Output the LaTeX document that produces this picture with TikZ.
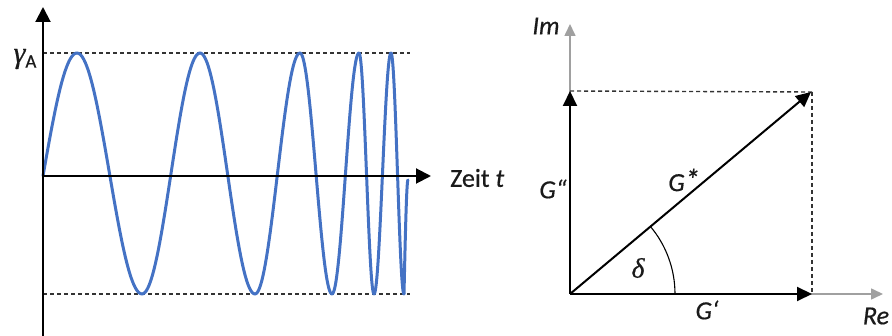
\documentclass[tikz,border=0pt]{standalone}
\usepackage{fontspec}
\setmainfont{Carlito}[FakeBold=0.6]
\newfontfamily\grk{Liberation Serif}[FakeBold=0.6]
\usetikzlibrary{arrows.meta}
\definecolor{wavecol}{HTML}{4472C4}
\definecolor{axgray}{HTML}{A0A0A0}
\definecolor{txt}{HTML}{1A1A1A}
\tikzset{
  blackax/.style={draw=black,line width=2pt,-{Triangle[length=15pt,width=15pt]}},
  grayax/.style={draw=axgray,line width=1.6pt,-{Triangle[length=12pt,width=11pt]}},
  vec/.style={draw=black,line width=2pt,-{Triangle[length=15pt,width=14pt]}},
  guide/.style={draw=black!80,line width=1.4pt,dash pattern=on 4pt off 3pt},
  wave/.style={draw=wavecol,line width=3pt,line cap=round,line join=round},
  lbl/.style={text=txt,font=\fontsize{26}{30}\selectfont,inner sep=0pt},
}
\newcommand\halfwave[4]{\draw[wave] plot[domain=0:1,samples=40,variable=\t] ({#1+(#2-#1)*\t},{(#3+#4)/2+(#3-#4)/2*cos(180*\t)});}
\begin{document}
\begin{tikzpicture}[x=1pt,y=-1pt]
\useasboundingbox (0,0) rectangle (892,336);
% ---------- left: sine sweep ----------
\coordinate (yb) at (43,336);
\coordinate (yt) at (43,7);
\coordinate (xo) at (43,176);
\coordinate (xe) at (431,176);
\coordinate (tl) at (43,53);
\coordinate (tr) at (410,53);
\coordinate (bl) at (43,294);
\coordinate (br) at (410,294);
\draw[guide] (tl) -- (tr);
\draw[guide] (bl) -- (br);
\draw[wave] plot[domain=0:1,samples=30,variable=\t] ({43+34*\t},{176-123*sin(90*\t)});
\halfwave{77}{142}{53}{294}
\halfwave{142}{200}{294}{53}
\halfwave{200}{255}{53}{294}
\halfwave{255}{300}{294}{53}
\halfwave{300}{332}{53}{294}
\halfwave{332}{359}{294}{53}
\halfwave{359}{374}{53}{294}
\halfwave{374}{391}{294}{53}
\halfwave{391}{404}{53}{294}
\draw[wave] plot[domain=0:1,samples=20,variable=\t] ({404+4*\t},{294-114*sin(90*\t)});
\draw[blackax] (yb) -- (yt);
\draw[blackax] (xo) -- (xe);
\node[lbl,anchor=west] (zeit) at (450,178) {Zeit \textit{t}};
\node[lbl] (gam) at (25,59) {{\grk\itshape\fontsize{30}{32}\selectfont γ}\raisebox{-5pt}{\fontsize{19}{22}\selectfont A}};
% ---------- right: phasor diagram ----------
\coordinate (O) at (570,294);
\coordinate (ReE) at (883,294);
\coordinate (ImE) at (570,24);
\coordinate (Gp) at (812,294);
\coordinate (Gpp) at (570,91);
\coordinate (Gs) at (811,92);
\coordinate (C) at (812,92);
\draw[grayax] (O) -- (ReE);
\draw[grayax] (O) -- (ImE);
\draw[guide] (Gpp) -- (C);
\draw[guide] (C) -- (Gp);
\draw[vec] (O) -- (Gp);
\draw[vec] (O) -- (Gpp);
\draw[vec] (O) -- (Gs);
\draw[black,line width=1.1pt] ([xshift=105pt]O) arc[start angle=0,end angle=40,radius=105pt];
\node[lbl] (im) at (546,26) {\textit{Im}};
\node[lbl] (re) at (876,316) {\textit{Re}};
\node[lbl] (gpp) at (553,189) {\textit{G“}};
\node[lbl] (gst) at (684,180) {\textit{G}\raisebox{1pt}{\fontsize{30}{32}\selectfont\textit{*}}};
\node[lbl] (gp) at (707,310) {\textit{G‘}};
\node[lbl] (del) at (638,268) {\grk\itshape\fontsize{28}{30}\selectfont δ};
\end{tikzpicture}
\end{document}
